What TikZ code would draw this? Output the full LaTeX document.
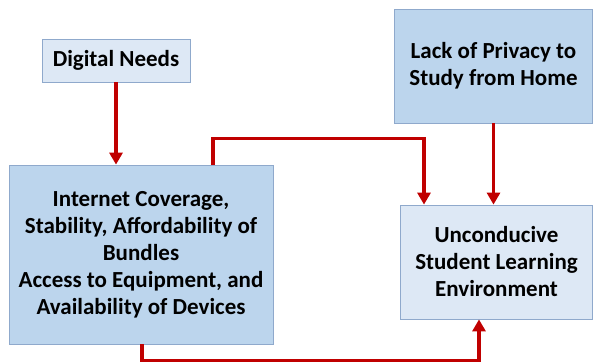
\documentclass[tikz,border=0pt]{standalone}
\usepackage{fontspec}
\setmainfont{Carlito}
\usetikzlibrary{arrows.meta}
\definecolor{boxmid}{HTML}{BCD5ED}
\definecolor{boxlight}{HTML}{DDE8F5}
\definecolor{boxedge}{HTML}{8FA9CC}
\definecolor{arrred}{HTML}{C00000}
\tikzset{
  box/.style={draw=boxedge, line width=0.8pt, align=center, inner sep=2pt,
    font=\fontsize{23}{27}\selectfont\bfseries, text=black},
  midbox/.style={box, fill=boxmid},
  lightbox/.style={box, fill=boxlight},
  conn/.style={draw=arrred, line width=3.4pt},
  arr/.style={conn, -{Triangle[width=13pt,length=12pt]}},
}
\begin{document}
\begin{tikzpicture}[x=1pt,y=1pt]
\useasboundingbox (0,0) rectangle (593,-362);
\node[lightbox, minimum width=148pt, minimum height=43pt] (dn) at (116,-60.5) {Digital Needs};
\node[midbox, minimum width=264pt, minimum height=179pt] (inet) at (141,-254.5)
  {Internet Coverage,\\Stability, Affordability of\\Bundles\\Access to Equipment, and\\Availability of Devices};
\node[midbox, minimum width=198pt, minimum height=114pt] (lack) at (493.5,-66)
  {Lack of Privacy to\\Study from Home};
\node[lightbox, minimum width=192pt, minimum height=114pt] (unc) at (496.5,-262)
  {Unconducive\\Student Learning\\Environment};
\draw[arr] (dn.south) -- (dn.south |- inet.north);
\draw[arr] ([xshift=72pt]inet.north) -- ++(0,26pt) -| ([xshift=-72.5pt]unc.north);
\draw[arr] (lack.south) -- (lack.south |- unc.north);
\draw[arr] ([xshift=1pt]inet.south) -- ++(0,-16pt) -| ([xshift=-17.5pt]unc.south);
\end{tikzpicture}
\end{document}
